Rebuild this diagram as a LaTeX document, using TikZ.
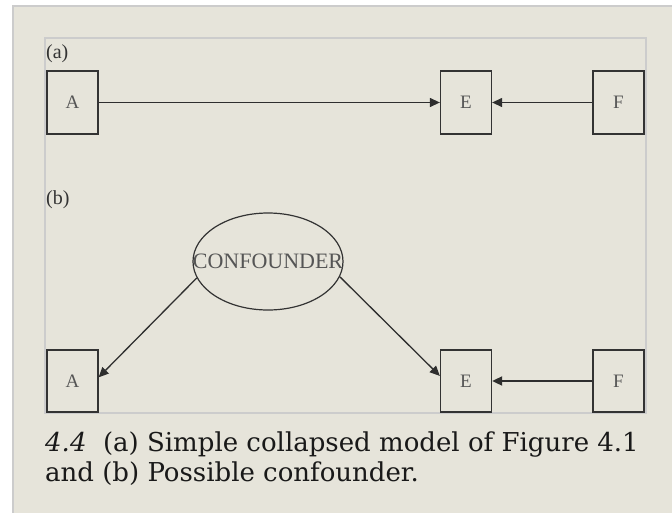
\documentclass[tikz,border=0pt]{standalone}
\usepackage{fontspec}
\setmainfont{DejaVu Serif}
\newfontfamily\diagfont{Liberation Serif}
\usetikzlibrary{shapes.geometric,arrows.meta}
\definecolor{beige}{HTML}{E6E4DA}
\definecolor{frame}{HTML}{CCCCCC}
\definecolor{ink}{HTML}{333333}
\definecolor{lbl}{HTML}{555555}
\begin{document}
\begin{tikzpicture}[x=1pt,y=-1pt,
  boxnode/.style={draw=ink,line width=1.3pt,minimum width=51pt,minimum height=63pt,inner sep=0pt,
    font=\diagfont\fontsize{19}{21}\selectfont,text=lbl},
  ovalnode/.style={draw=ink,line width=1.2pt,ellipse,minimum width=150pt,minimum height=97pt,inner sep=0pt},
  ovaltext/.style={font=\diagfont\fontsize{22}{24}\selectfont,text=lbl,inner sep=0pt},
  arr/.style={draw=ink!90!black,line width=1.3pt,-{Triangle[length=10pt,width=9pt]}},
  panellbl/.style={font=\diagfont\fontsize{20}{22}\selectfont,text=ink,inner sep=0pt,anchor=west},
  captxt/.style={font=\fontsize{26}{30}\selectfont,text=black!90,inner sep=0pt,anchor=base west}]
\useasboundingbox (0,0) rectangle (672,512);
\fill[white] (0,0) rectangle (672,512);
\filldraw[fill=beige,draw=frame,line width=1.5pt] (13,6) rectangle (680,520);
\draw[frame,line width=1.3pt] (45,38) rectangle (646,413);
% (a)
\node[panellbl] (la) at (46,54) {(a)};
\node[boxnode] (aA) at (72.5,102.5) {A};
\node[boxnode] (aE) at (466,102.5) {E};
\node[boxnode] (aF) at (618.5,102.5) {F};
\draw[arr] (aA) -- (aE);
\draw[arr] (aF) -- (aE);
% (b)
\node[panellbl] (lb) at (46,200) {(b)};
\node[ovalnode] (conf) at (268,261.5) {};
\node[ovaltext] (conftext) at (conf.center) {CONFOUNDER};
\node[boxnode,minimum height=62pt] (bA) at (72.5,381) {A};
\node[boxnode,minimum height=62pt] (bE) at (466,381) {E};
\node[boxnode,minimum height=62pt] (bF) at (618.5,381) {F};
\draw[arr] (conf.193) -- (bA.8);
\draw[arr] (conf.348) -- (bE.169);
\draw[arr,line width=1.8pt] (bF) -- (bE);
% caption
\node[captxt] (cap1) at (45,451) {\textit{4.4}\ \ (a) Simple collapsed model of Figure 4.1};
\node[captxt] (cap2) at (45,481) {and (b) Possible confounder.};
\end{tikzpicture}
\end{document}
